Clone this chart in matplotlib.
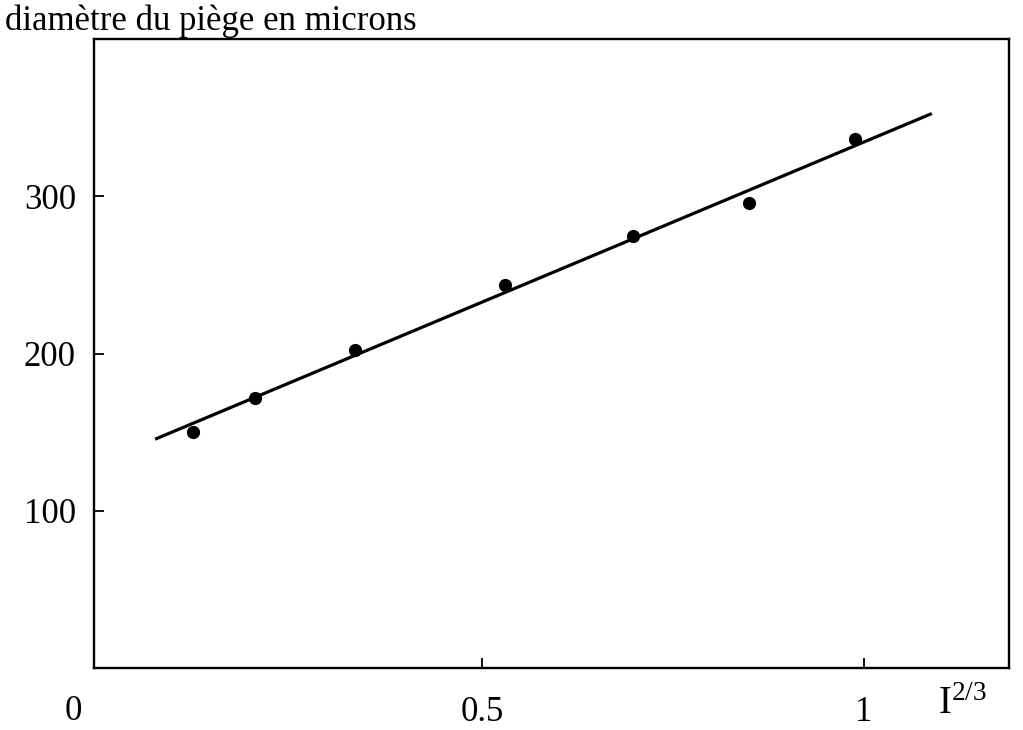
import matplotlib
matplotlib.use("Agg")
import matplotlib.pyplot as plt
import numpy as np

# data
x_pts = [0.122, 0.203, 0.334, 0.530, 0.698, 0.850, 0.988]
y_pts = [150.2, 171.5, 202.1, 243.4, 274.8, 295.8, 336.7]
fit_x = [0.072, 1.089]
fit_y = [145.5, 352.6]
xticks = [0.5, 1]
xtick_labels = ["0.5", "1"]
yticks = [100, 200, 300]
ytick_labels = ["100", "200", "300"]

plt.rcParams['font.family'] = ['Liberation Serif', 'DejaVu Serif']
plt.rcParams['mathtext.fontset'] = 'custom'
plt.rcParams['mathtext.rm'] = 'Liberation Serif'
plt.rcParams['mathtext.it'] = 'Liberation Serif:italic'

fig = plt.figure(figsize=(10.23, 7.30), dpi=100)
ax = fig.add_axes([94/1023, 1-668/730, (1009-94)/1023, (668-39)/730])
ax.set_xlim(-0.008, 1.19)
ax.set_ylim(0, 400)

ax.plot(fit_x, fit_y, color='black', lw=2.3, solid_capstyle='butt')
ax.plot(x_pts, y_pts, 'o', color='black', ms=8.5)

for s in ax.spines.values():
    s.set_linewidth(1.7)

ax.set_xticks(xticks)
ax.set_xticklabels(xtick_labels)
ax.set_yticks(yticks)
ax.set_yticklabels(ytick_labels)
ax.tick_params(axis='both', direction='in', length=7, width=1.3, labelsize=25)
ax.tick_params(axis='x', pad=20)
ax.tick_params(axis='y', pad=13)

fig.text(5/1023, 1-21/730, "diamètre du piège en microns", fontsize=25,
         ha='left', va='center')
fig.text(73/1023, 1-712/730, "0", fontsize=25, ha='center', va='center')
fig.text(938/1023, 1-705/730, r"I$^{\mathrm{2/3}}$", fontsize=28, ha='left', va='center')

fig.savefig("out.png", dpi=100, facecolor='white')
